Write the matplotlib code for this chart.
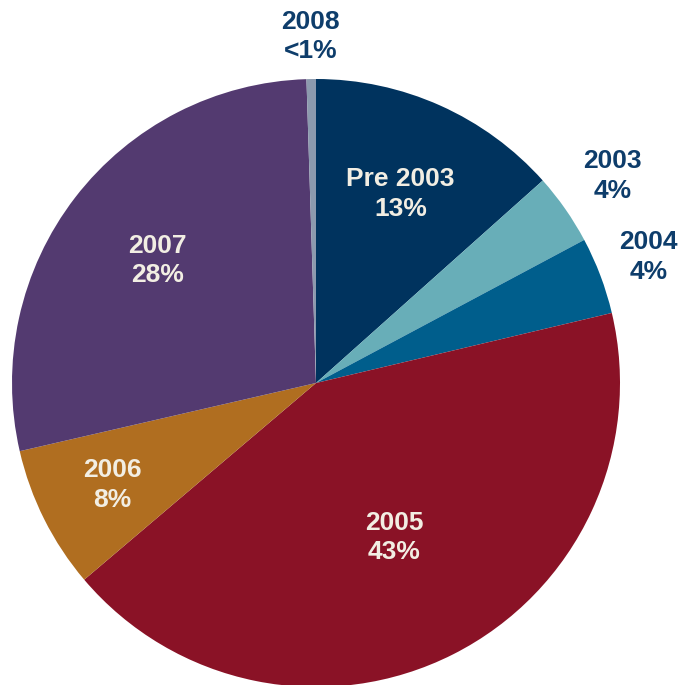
import numpy as np
import matplotlib.pyplot as plt

plt.rcParams['font.family'] = ['Liberation Sans', 'DejaVu Sans']

labels = ['Pre 2003', '2003', '2004', '2005', '2006', '2007', '2008']
pct_text = ['13%', '4%', '4%', '43%', '8%', '28%', '<1%']
shares = [13.4, 3.8, 4.1, 42.5, 7.6, 28.1, 0.5]
colors = ['#00335E', '#68AEB8', '#005E8C', '#8A1226', '#B06E20', '#533A70', '#8C9AAE']
# where each label sits, as a fraction of the radius, and its colour
label_dist = [0.68, 1.19, 1.17, 0.57, 0.75, 0.66, 1.14]
inside = [True, False, False, True, True, True, False]

fig = plt.figure(figsize=(6.83, 6.85), dpi=100)
ax = fig.add_axes([0, 0, 1, 1])

r = 304
wedges, _ = ax.pie(shares, colors=colors, startangle=90, counterclock=False,
                   radius=r, center=(0, 0),
                   wedgeprops=dict(linewidth=0))

for w, lab, pt, d, ins in zip(wedges, labels, pct_text, label_dist, inside):
    mid = np.deg2rad((w.theta1 + w.theta2) / 2)
    x, y = d * r * np.cos(mid), d * r * np.sin(mid)
    ax.text(x, y, lab + '\n' + pt, ha='center', va='center', fontsize=19,
            fontweight='bold', linespacing=1.3,
            color='#F2EEE3' if ins else '#0E3D6B')

ax.set_xlim(-316, 683 - 316)
ax.set_ylim(-302, 685 - 302)
ax.set_aspect('auto')
ax.axis('off')

fig.savefig('out.png', dpi=100)
